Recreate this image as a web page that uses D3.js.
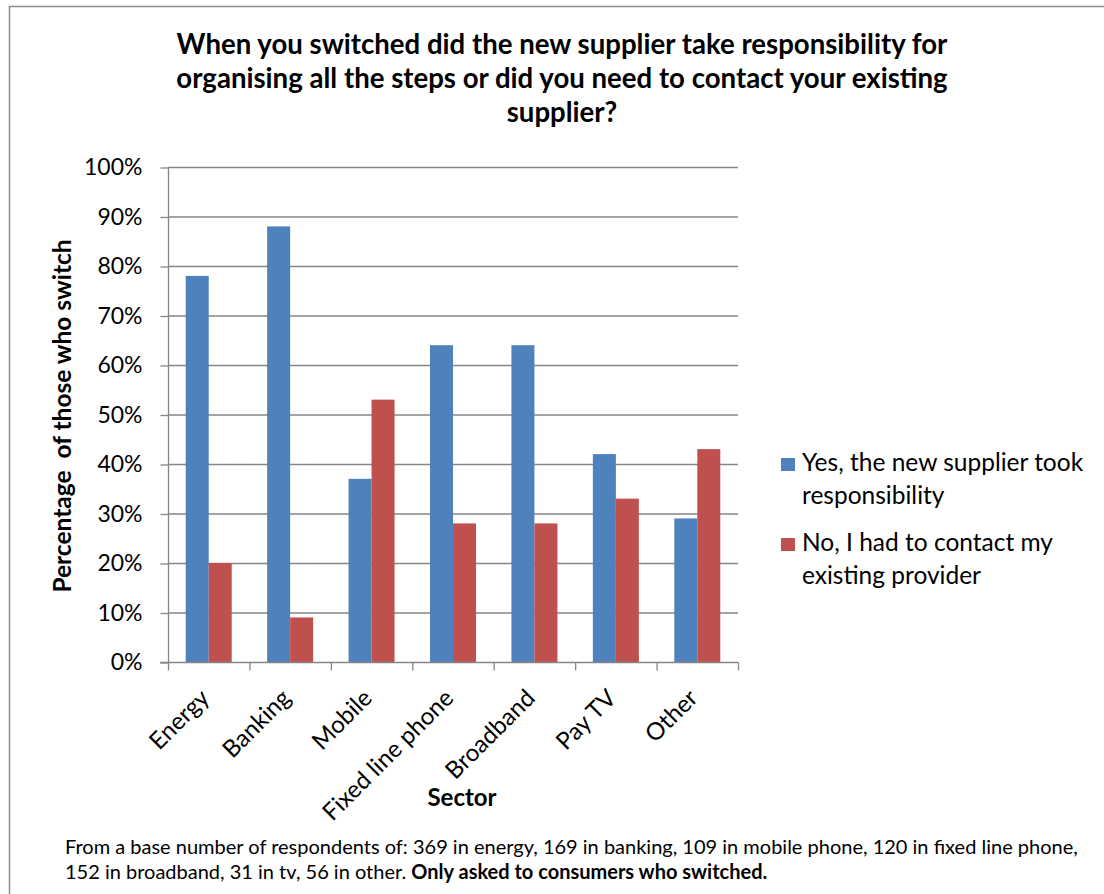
<!DOCTYPE html>
<html>
<head>
<meta charset="utf-8">
<script src="https://cdn.jsdelivr.net/npm/d3@7"></script>
<style>
  html, body { margin: 0; padding: 0; background: #fff; }
  svg { display: block; font-family: Lato, "Open Sans", sans-serif; }
</style>
</head>
<body>
<svg id="chart" width="1104" height="894"></svg>
<script>
// Survey results: share of switchers, by sector
const sectors = ["Energy", "Banking", "Mobile", "Fixed line phone", "Broadband", "Pay TV", "Other"];
const newSupplierTook = [78, 88, 37, 64, 64, 42, 29];
const hadToContact = [20, 9, 53, 28, 28, 33, 43];
const seriesNames = [
  ["Yes, the new supplier took", "responsibility"],
  ["No, I had to contact my", "existing provider"]
];
const seriesColors = ["#4F81BD", "#C0504D"];
const yTicks = [0, 10, 20, 30, 40, 50, 60, 70, 80, 90, 100];
const titleLines = [
  "When you switched did the new supplier take responsibility for",
  "organising all the steps or did you need to contact your existing",
  "supplier?"
];

const svg = d3.select("#chart");
const axisGrey = "#868686";

// outer frame
svg.append("rect")
  .attr("x", 9.5).attr("y", 6.5)
  .attr("width", 1200).attr("height", 1000)
  .attr("fill", "none").attr("stroke", "#8c8c8c").attr("stroke-width", 1.5);

const plot = { left: 168, right: 738, top: 167, bottom: 662 };

const x0 = d3.scaleBand().domain(sectors).range([plot.left, plot.right]).paddingInner(0).paddingOuter(0);
const x1 = d3.scaleBand().domain([0, 1]).range([0, x0.bandwidth()]).paddingOuter(0.77).paddingInner(0);
const y = d3.scaleLinear().domain([0, 100]).range([plot.bottom, plot.top]);

// gridlines
svg.append("g")
  .selectAll("line").data(yTicks.slice(1)).join("line")
  .attr("x1", plot.left).attr("x2", plot.right)
  .attr("y1", d => y(d) + 0.5).attr("y2", d => y(d) + 0.5)
  .attr("stroke", axisGrey).attr("stroke-width", 1.3);

// y axis
const yAxis = d3.axisLeft(y).tickValues(yTicks).tickFormat(d => d + "%").tickSize(8).tickPadding(18);
const gy = svg.append("g").attr("transform", `translate(${plot.left + 0.5},0.5)`).call(yAxis);
gy.select(".domain").attr("stroke", axisGrey).attr("stroke-width", 1.3).attr("d", `M0,${plot.top}V${plot.bottom}`);
gy.selectAll(".tick line").attr("stroke", axisGrey).attr("stroke-width", 1.3);
gy.selectAll(".tick text").attr("font-size", 23).attr("fill", "#000").attr("font-family", "Lato, sans-serif");

// bars
const series = [newSupplierTook, hadToContact];
const groups = svg.append("g").selectAll("g").data(sectors).join("g")
  .attr("transform", d => `translate(${x0(d)},0)`);
groups.selectAll("rect")
  .data((d, i) => series.map((s, k) => ({ k, v: s[i] })))
  .join("rect")
  .attr("x", d => x1(d.k))
  .attr("width", x1.bandwidth())
  .attr("y", d => y(d.v))
  .attr("height", d => y(0) - y(d.v))
  .attr("fill", d => seriesColors[d.k]);

// x axis with boundary ticks
const gx = svg.append("g").attr("transform", `translate(0,${plot.bottom + 0.5})`);
gx.append("line").attr("x1", plot.left - 8).attr("x2", plot.right + 0.5)
  .attr("stroke", axisGrey).attr("stroke-width", 1.3);
const bounds = sectors.map(s => x0(s)).concat([plot.right]);
gx.selectAll("line.tk").data(bounds).join("line").attr("class", "tk")
  .attr("x1", d => d + 0.5).attr("x2", d => d + 0.5).attr("y1", 0).attr("y2", 8)
  .attr("stroke", axisGrey).attr("stroke-width", 1.3);

// rotated category labels
gx.selectAll("text").data(sectors).join("text")
  .attr("transform", d => `translate(${x0(d) + x0.bandwidth() / 2 + 2},${37}) rotate(-45)`)
  .attr("text-anchor", "end")
  .attr("font-size", 24)
  .attr("fill", "#000")
  .text(d => d);

// title
svg.append("g").selectAll("text").data(titleLines).join("text")
  .attr("x", 562).attr("y", (d, i) => 54 + i * 34)
  .attr("text-anchor", "middle")
  .attr("font-size", 27.6).attr("font-weight", "bold").attr("fill", "#000")
  .text(d => d);

// axis titles
svg.append("text")
  .attr("transform", `translate(71,416) rotate(-90)`)
  .attr("text-anchor", "middle")
  .attr("font-size", 24.5).attr("font-weight", "bold").attr("fill", "#000")
  .attr("xml:space", "preserve")
  .text("Percentage  of those who switch");

svg.append("text")
  .attr("x", 462).attr("y", 806)
  .attr("text-anchor", "middle")
  .attr("font-size", 24).attr("font-weight", "bold").attr("fill", "#000")
  .text("Sector");

// legend
const lg = svg.append("g").selectAll("g").data(seriesNames).join("g")
  .attr("transform", (d, i) => `translate(781,${458 + i * 80})`);
lg.append("rect").attr("width", 14).attr("height", 13).attr("fill", (d, i) => seriesColors[i]);
lg.append("text").attr("y", 13)
  .attr("font-size", 24.5).attr("fill", "#000")
  .selectAll("tspan").data(d => d).join("tspan")
  .attr("x", 21).attr("dy", (d, i) => i ? 33 : 0)
  .text(d => d);

// footnote
const foot = svg.append("g").attr("font-size", 20).attr("fill", "#000");
foot.append("text").attr("x", 65).attr("y", 854)
  .text("From a base number of respondents of: 369 in energy, 169 in banking, 109 in mobile phone, 120 in fixed line phone,");
const f2 = foot.append("text").attr("x", 65).attr("y", 879);
f2.append("tspan").text("152 in broadband, 31 in tv, 56 in other. ");
f2.append("tspan").attr("font-weight", "bold").text("Only asked to consumers who switched.");
</script>
</body>
</html>
